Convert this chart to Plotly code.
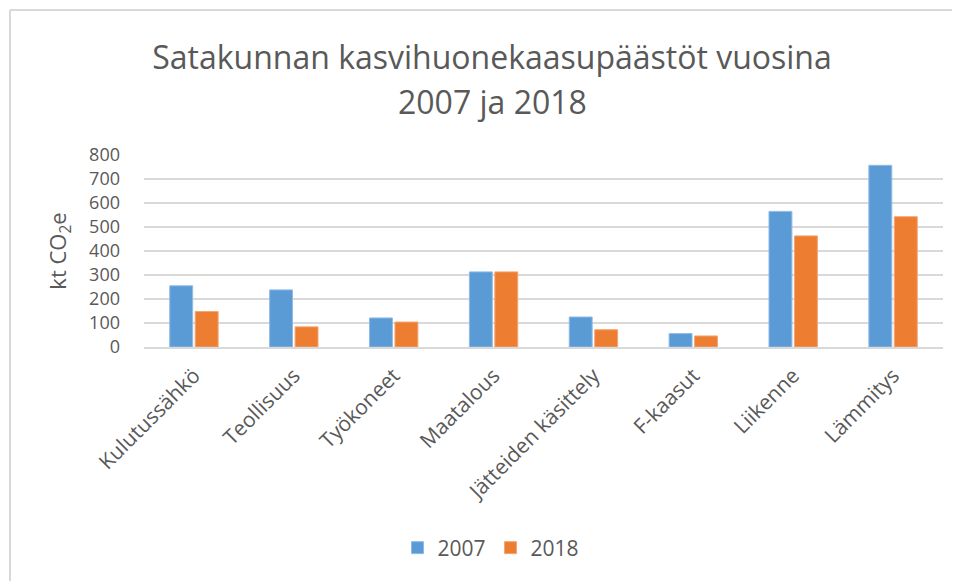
import plotly.graph_objects as go

categories = ["Kulutussähkö", "Teollisuus", "Työkoneet", "Maatalous",
              "Jätteiden käsittely", "F-kaasut", "Liikenne", "Lämmitys"]
values_2007 = [255, 238, 121, 313, 125, 56, 565, 757]
values_2018 = [148, 84, 104, 313, 72, 46, 463, 543]
y_ticks = [0, 100, 200, 300, 400, 500, 600, 700, 800]

# The page body adds an 8px margin; size the figure so it fits the window
OFF = 8
W, H = 960 - OFF, 581 - OFF
ML, MR, MT, MB = 144 - OFF, 17, 155 - OFF, 234
PW, PH = W - ML - MR, H - MT - MB

def px_x(p):
    # p given in reference-window pixels
    return (p - OFF - ML) / PW

def px_y(p):
    return (H - MB - (p - OFF)) / PH

gray = "#595959"
font_family = "Open Sans, Noto Sans, sans-serif"

fig = go.Figure()
fig.add_trace(go.Bar(name="2007", x=categories, y=values_2007,
                     marker=dict(color="#5B9BD5", line=dict(color="#8FBBE6", width=1))))
fig.add_trace(go.Bar(name="2018", x=categories, y=values_2018,
                     marker=dict(color="#ED7D31", line=dict(color="#F4A673", width=1))))

fig.update_layout(
    width=W, height=H,
    margin=dict(l=ML, r=MR, t=MT, b=MB, autoexpand=False),
    paper_bgcolor="white", plot_bgcolor="white",
    barmode="group", bargap=0.49, bargroupgap=0.1,
    font=dict(family=font_family, color=gray),
    title=dict(text="Satakunnan kasvihuonekaasupäästöt vuosina",
               x=(492 - OFF) / W, xref="container", xanchor="center",
               y=1 - (58 - OFF) / H, yref="container", yanchor="middle",
               font=dict(size=32, color=gray, family=font_family)),
    legend=dict(orientation="h", x=(491 - OFF) / W, xref="container", xanchor="center",
                y=1 - (548 - OFF) / H, yref="container", yanchor="middle",
                font=dict(size=21, color=gray), itemwidth=30),
    showlegend=True,
)

fig.add_annotation(text="2007 ja 2018", xref="paper", yref="paper",
                   x=px_x(492), y=px_y(101), xanchor="center", yanchor="middle",
                   showarrow=False, font=dict(size=32, color=gray, family=font_family))

fig.update_yaxes(range=[0, 800], tickvals=y_ticks, showgrid=True,
                 gridcolor="#D9D9D9", gridwidth=2, zeroline=False,
                 showline=False, ticks="", ticklabelstandoff=23,
                 tickfont=dict(size=18, color=gray),
                 title=dict(text="kt CO<sub>2</sub>e", font=dict(size=22, color=gray), standoff=16),
                 automargin=False)
fig.update_xaxes(showline=True, linecolor="#D9D9D9", linewidth=2, ticks="",
                 tickangle=-45, tickfont=dict(size=21, color=gray),
                 ticklabelstandoff=6, automargin=False)

# chart area border (top and left edges visible in the reference)
fig.add_shape(type="line", xref="paper", yref="paper",
              x0=px_x(10), x1=px_x(970), y0=px_y(10), y1=px_y(10),
              line=dict(color="#D9D9D9", width=2))
fig.add_shape(type="line", xref="paper", yref="paper",
              x0=px_x(10), x1=px_x(10), y0=px_y(10), y1=px_y(600),
              line=dict(color="#D9D9D9", width=2))

fig.write_html("out.html")
